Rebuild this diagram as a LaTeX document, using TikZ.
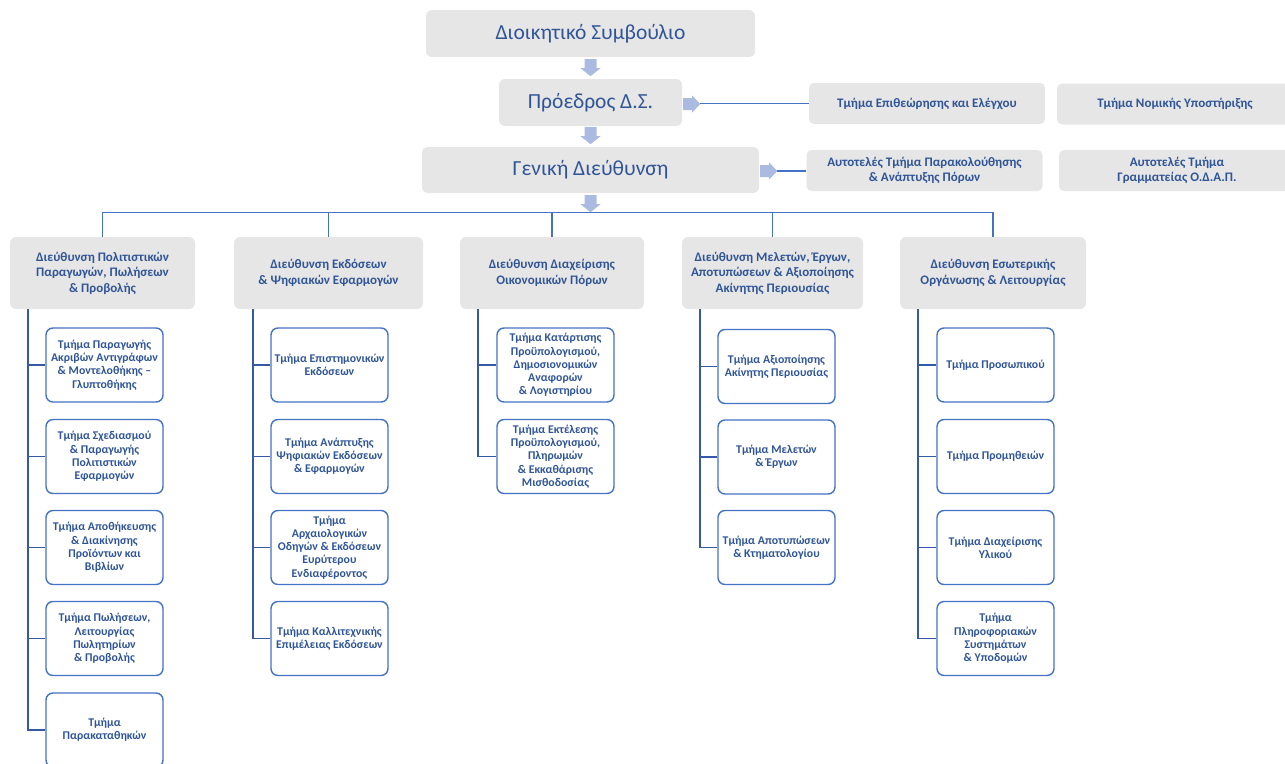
\documentclass[tikz,border=0pt]{standalone}
\usepackage{fontspec}
\setmainfont{Carlito}
\usetikzlibrary{calc}
\definecolor{txt}{RGB}{47,85,151}
\definecolor{boxgray}{RGB}{231,230,230}
\definecolor{arrowc}{RGB}{170,186,224}
\definecolor{linec}{RGB}{68,114,196}
\definecolor{spinec}{RGB}{52,90,165}
\newcommand\blkdn[1]{\fill[arrowc] (#1) ++(-6,0) -- ++(12,0) -- ++(0,9) -- ++(4,0) -- ++(-10,8) -- ++(-10,-8) -- ++(4,0) -- cycle;}
\newcommand\blkrt[1]{\fill[arrowc] (#1) ++(0,-6) -- ++(9,0) -- ++(0,-2.5) -- ++(8,8.5) -- ++(-8,8.5) -- ++(0,-2.5) -- ++(-9,0) -- cycle;}
\begin{document}
\begin{tikzpicture}[x=1pt,y=-1pt,
  topbox/.style={fill=boxgray,rounded corners=6pt,inner sep=0pt,text=txt,font=\fontsize{21.5}{25}\selectfont,align=center},
  sidebox/.style={fill=boxgray,rounded corners=5pt,inner sep=0pt,text=txt,font=\fontsize{13}{15.5}\selectfont\bfseries,align=center,minimum width=236pt,minimum height=41pt},
  dirbox/.style={fill=boxgray,rounded corners=6pt,inner sep=0pt,text=txt,font=\fontsize{13}{15.5}\selectfont\bfseries,align=center,minimum height=72pt},
  unitbox/.style={draw=linec,line width=1.4pt,fill=white,rounded corners=7pt,inner sep=0pt,text=txt,font=\fontsize{11.8}{13.2}\selectfont\bfseries,align=center,minimum width=117pt,minimum height=74pt},
  bus/.style={draw=linec,line width=1.5pt},
  spine/.style={draw=spinec,line width=1.8pt},
  side/.style={draw=linec,line width=1.3pt}]
\useasboundingbox (0,0) rectangle (1285,763);
% top
\node[topbox,minimum width=329pt,minimum height=47pt] (dioik) at (590.5,33.5) {Διοικητικό Συμβούλιο};
\node[topbox,minimum width=183pt,minimum height=47pt] (proedros) at (590.5,102.5) {Πρόεδρος Δ.Σ.};
\node[topbox,minimum width=337pt,minimum height=46pt] (geniki) at (590.5,170) {Γενική Διεύθυνση};
\blkdn{$(dioik.south)+(0,2)$}
\blkdn{$(proedros.south)+(0,1)$}
\blkdn{$(geniki.south)+(0,2)$}
% side boxes
\node[sidebox] (epith) at (927,103.5) {Τμήμα Επιθεώρησης και Ελέγχου};
\node[sidebox] (nomik) at (1175,104) {Τμήμα Νομικής Υποστήριξης};
\node[sidebox] (parak) at (924.5,170.5) {Αυτοτελές Τμήμα Παρακολούθησης\\\& Ανάπτυξης Πόρων};
\node[sidebox] (gramm) at (1177,170.5) {Αυτοτελές Τμήμα\\Γραμματείας Ο.Δ.Α.Π.};
\blkrt{$(proedros.east)+(1,1.5)$}
\blkrt{$(geniki.east)+(1,1)$}
\coordinate (pa) at ($(proedros.east)+(18,1)$);
\coordinate (ga) at ($(geniki.east)+(18,1)$);
\draw[side] (pa) -- (pa -| epith.west);
\draw[side] (ga) -- (ga -| parak.west);
% directorates
\node[dirbox,minimum width=185pt] (d1) at (102.5,273) {Διεύθυνση Πολιτιστικών\\Παραγωγών, Πωλήσεων\\\& Προβολής};
\node[dirbox,minimum width=189pt] (d2) at (328.5,273) {Διεύθυνση Εκδόσεων\\\& Ψηφιακών Εφαρμογών};
\node[dirbox,minimum width=184pt] (d3) at (552,273) {Διεύθυνση Διαχείρισης\\Οικονομικών Πόρων};
\node[dirbox,minimum width=181pt] (d4) at (772.5,273) {Διεύθυνση Μελετών, Έργων,\\Αποτυπώσεων \& Αξιοποίησης\\Ακίνητης Περιουσίας};
\node[dirbox,minimum width=186pt] (d5) at (993,273) {Διεύθυνση Εσωτερικής\\Οργάνωσης \& Λειτουργίας};
\coordinate (busy) at (0,212.5);
\draw[bus] (d1.north) -- (d1.north |- busy) -- (d5.north |- busy) -- (d5.north);
\foreach \d in {d2,d3,d4} {\draw[bus] (\d.north) -- (\d.north |- busy);}
% units column 1
\node[unitbox] (c11) at (104.5,365) {Τμήμα Παραγωγής\\Ακριβών Αντιγράφων\\\& Μοντελοθήκης –\\Γλυπτοθήκης};
\node[unitbox] (c12) at (104.5,456.5) {Τμήμα Σχεδιασμού\\\& Παραγωγής\\Πολιτιστικών\\Εφαρμογών};
\node[unitbox] (c13) at (104.5,547.5) {Τμήμα Αποθήκευσης\\\& Διακίνησης\\Προϊόντων και\\Βιβλίων};
\node[unitbox] (c14) at (104.5,638.5) {Τμήμα Πωλήσεων,\\Λειτουργίας\\Πωλητηρίων\\\& Προβολής};
\node[unitbox] (c15) at (104.5,730) {Τμήμα\\Παρακαταθηκών};
\coordinate (s1) at (28,0);
\draw[spine] (d1.south -| s1) |- (c15.west);
\foreach \c in {c11,c12,c13,c14} {\draw[spine] (\c.west -| s1) -- (\c.west);}
% column 2
\node[unitbox] (c21) at (329.5,365) {Τμήμα Επιστημονικών\\Εκδόσεων};
\node[unitbox] (c22) at (329.5,456.5) {Τμήμα Ανάπτυξης\\Ψηφιακών Εκδόσεων\\\& Εφαρμογών};
\node[unitbox] (c23) at (329.5,547.5) {Τμήμα\\Αρχαιολογικών\\Οδηγών \& Εκδόσεων\\Ευρύτερου\\Ενδιαφέροντος};
\node[unitbox] (c24) at (329.5,638.5) {Τμήμα Καλλιτεχνικής\\Επιμέλειας Εκδόσεων};
\coordinate (s2) at (253,0);
\draw[spine] (d2.south -| s2) |- (c24.west);
\foreach \c in {c21,c22,c23} {\draw[spine] (\c.west -| s2) -- (\c.west);}
% column 3
\node[unitbox] (c31) at (555.5,365) {Τμήμα Κατάρτισης\\Προϋπολογισμού,\\Δημοσιονομικών\\Αναφορών\\\& Λογιστηρίου};
\node[unitbox] (c32) at (555.5,456.5) {Τμήμα Εκτέλεσης\\Προϋπολογισμού,\\Πληρωμών\\\& Εκκαθάρισης\\Μισθοδοσίας};
\coordinate (s3) at (478,0);
\draw[spine] (d3.south -| s3) |- (c32.west);
\draw[spine] (c31.west -| s3) -- (c31.west);
% column 4
\node[unitbox] (c41) at (776.5,366.5) {Τμήμα Αξιοποίησης\\Ακίνητης Περιουσίας};
\node[unitbox] (c42) at (776.5,457) {Τμήμα Μελετών\\\& Έργων};
\node[unitbox] (c43) at (776.5,547.5) {Τμήμα Αποτυπώσεων\\\& Κτηματολογίου};
\coordinate (s4) at (700,0);
\draw[spine] (d4.south -| s4) |- (c43.west);
\foreach \c in {c41,c42} {\draw[spine] (\c.west -| s4) -- (\c.west);}
% column 5
\node[unitbox] (c51) at (995.5,365) {Τμήμα Προσωπικού};
\node[unitbox] (c52) at (995.5,456.5) {Τμήμα Προμηθειών};
\node[unitbox] (c53) at (995.5,547.5) {Τμήμα Διαχείρισης\\Υλικού};
\node[unitbox] (c54) at (995.5,638.5) {Τμήμα\\Πληροφοριακών\\Συστημάτων\\\& Υποδομών};
\coordinate (s5) at (918,0);
\draw[spine] (d5.south -| s5) |- (c54.west);
\foreach \c in {c51,c52,c53} {\draw[spine] (\c.west -| s5) -- (\c.west);}
\end{tikzpicture}
\end{document}
